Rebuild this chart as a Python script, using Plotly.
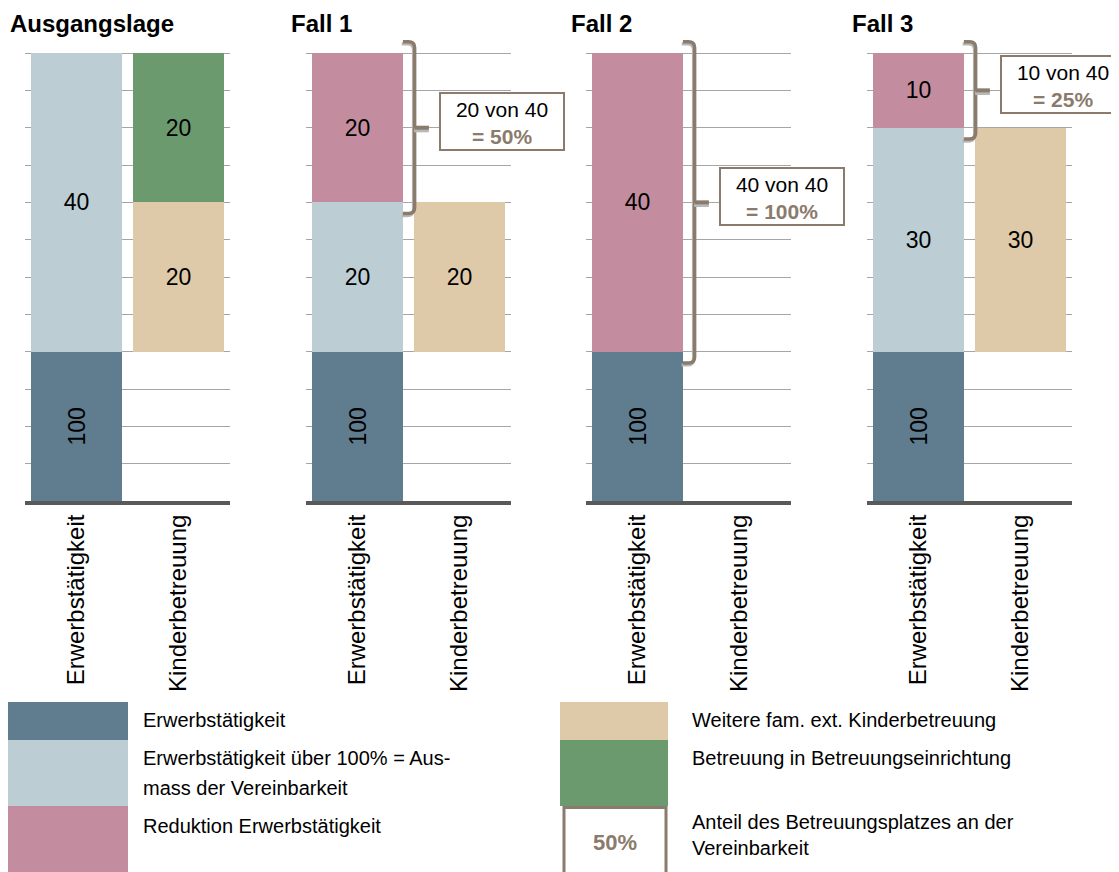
import plotly.graph_objects as go

# ---------------- data ----------------
panels = ["Ausgangslage", "Fall 1", "Fall 2", "Fall 3"]
categories = ["Erwerbstätigkeit", "Kinderbetreuung"]
erwerb_base = [100, 100, 100, 100]        # Erwerbstätigkeit (100%)
erwerb_ueber = [40, 20, 0, 30]            # Erwerbstätigkeit über 100%
reduktion = [0, 20, 40, 10]               # Reduktion Erwerbstätigkeit
weitere = [20, 20, 0, 30]                 # Weitere fam. ext. Kinderbetreuung
einrichtung = [20, 0, 0, 0]               # Betreuung in Betreuungseinrichtung
vereinbarkeit_total = [40, 40, 40, 40]    # reference for share

legend_left = ["Erwerbstätigkeit",
               "Erwerbstätigkeit über 100% = Aus-\nmass der Vereinbarkeit",
               "Reduktion Erwerbstätigkeit"]
legend_right = ["Weitere fam. ext. Kinderbetreuung",
                "Betreuung in Betreuungseinrichtung",
                "Anteil des Betreuungsplatzes an der\nVereinbarkeit"]
legend_box_label = "50%"

# ---------------- style ----------------
W, H = 1119, 872
OFF = 8            # page body margin
FW, FH = W - OFF, H - OFF
FONT = "Arial, 'Liberation Sans', sans-serif"
C_BASE = "#5F7D8F"
C_UEBER = "#BDCDD4"
C_RED = "#C48D9F"
C_WEIT = "#DECAA8"
C_EINR = "#6C9A6F"
BROWN = "#8B7B6C"
GRID = "#A6A6A6"
BASE_SCALE = 0.2   # axis break: the 100% base is drawn at 1/5 scale
BAR_W = 0.89
YMAX = 62

panel_left_px = [25, 306, 586, 867]
panel_w_px = 205
y_bottom_px, y_top_px = 501, 38.1


def px(x):
    return (x - OFF) / FW


def py(y):
    return 1 - (y - OFF) / FH


fig = go.Figure()
layout_axes = {}
shapes = []
annotations = []

for i, name in enumerate(panels):
    s = "" if i == 0 else str(i + 1)
    # (x, value, scale, colour, text angle, show text)
    segs = [
        (0, erwerb_base[i], BASE_SCALE, C_BASE, -90, True),
        (0, erwerb_ueber[i], 1, C_UEBER, 0, True),
        (0, reduktion[i], 1, C_RED, 0, True),
        (1, erwerb_base[i], BASE_SCALE, "rgba(0,0,0,0)", 0, False),
        (1, weitere[i], 1, C_WEIT, 0, True),
        (1, einrichtung[i], 1, C_EINR, 0, True),
    ]
    for xpos, val, sc, col, ang, show in segs:
        if val <= 0:
            continue
        fig.add_trace(go.Bar(
            x=[xpos], y=[val * sc], text=[str(val) if show else ""], width=[BAR_W],
            marker=dict(color=col, line=dict(width=0)),
            textposition="inside", insidetextanchor="middle", textangle=ang,
            constraintext="none",
            textfont=dict(size=23, color="black", family=FONT),
            xaxis="x" + s, yaxis="y" + s, showlegend=False, hoverinfo="skip"))

    l = panel_left_px[i]
    layout_axes["xaxis" + s] = dict(
        domain=[px(l), px(l + panel_w_px)], range=[-0.505, 1.505],
        tickmode="array", tickvals=[0, 1], ticktext=categories, tickangle=-90,
        tickfont=dict(size=24, color="black", family=FONT), ticks="",
        showline=True, linewidth=4, linecolor="#595959",
        showgrid=False, zeroline=False, anchor="y" + s, fixedrange=True)
    layout_axes["yaxis" + s] = dict(
        domain=[py(y_bottom_px), py(y_top_px)], range=[0, YMAX],
        tick0=0, dtick=5, showgrid=True, gridcolor=GRID, gridwidth=1,
        showticklabels=False, ticks="", zeroline=False, showline=False,
        anchor="x" + s, fixedrange=True)

    annotations.append(dict(
        text="<b>%s</b>" % name, xref="paper", yref="paper",
        x=px(l - 17), y=py(23), xanchor="left", yanchor="middle",
        showarrow=False, font=dict(size=24, color="black", family=FONT)))

    # brace + share box
    if reduktion[i] > 0:
        base_top = erwerb_base[i] * BASE_SCALE + erwerb_ueber[i]
        pad = 1.5
        ylo = base_top - pad
        yhi = base_top + reduktion[i] + pad
        ymid = (ylo + yhi) / 2
        xe, xb, rx, ry = BAR_W / 2, 0.56, 0.06, 0.8

        def brace(dx, dy):
            return ("M %f,%f L %f,%f Q %f,%f %f,%f L %f,%f Q %f,%f %f,%f L %f,%f" % (
                xe + dx, yhi + dy, xb - rx + dx, yhi + dy, xb + dx, yhi + dy,
                xb + dx, yhi - ry + dy, xb + dx, ylo + ry + dy, xb + dx, ylo + dy,
                xb - rx + dx, ylo + dy, xe + dx, ylo + dy))

        shapes.append(dict(type="path", xref="x" + s, yref="y" + s,
                           path=brace(-0.012, -0.3),
                           line=dict(color="#B8B8B8", width=3), layer="above"))
        shapes.append(dict(type="path", xref="x" + s, yref="y" + s,
                           path=brace(0, 0),
                           line=dict(color=BROWN, width=3.5), layer="above"))
        shapes.append(dict(type="line", xref="x" + s, yref="y" + s,
                           x0=xb - 0.005, x1=xb + 0.14, y0=ymid - 0.35, y1=ymid - 0.35,
                           line=dict(color="#B8B8B8", width=4), layer="above"))
        shapes.append(dict(type="line", xref="x" + s, yref="y" + s,
                           x0=xb, x1=xb + 0.14, y0=ymid, y1=ymid,
                           line=dict(color=BROWN, width=4), layer="above"))
        pct = round(100 * reduktion[i] / vereinbarkeit_total[i])
        annotations.append(dict(
            text="%d von %d<br><b><span style='color:%s'>= %d%%</span></b>" % (
                reduktion[i], vereinbarkeit_total[i], BROWN, pct),
            xref="x" + s, yref="y" + s, x=xb + 0.24, y=ymid + 0.8,
            xanchor="left", yanchor="middle", showarrow=False,
            width=114, height=47, borderpad=4, borderwidth=2, valign="top",
            bordercolor=BROWN, bgcolor="white", align="center",
            font=dict(size=21, color="black", family=FONT)))

# ---------------- legend (drawn) ----------------
legend_rows = [(702, 740), (740, 806), (806, 872)]
left_cols = [C_BASE, C_UEBER, C_RED]
right_cols = [C_WEIT, C_EINR, None]
for (t, b), col in zip(legend_rows, left_cols):
    shapes.append(dict(type="rect", xref="paper", yref="paper",
                       x0=px(8), x1=px(128), y0=py(b), y1=py(t),
                       fillcolor=col, line=dict(width=0)))
for (t, b), col in zip(legend_rows, right_cols):
    if col is None:
        shapes.append(dict(type="rect", xref="paper", yref="paper",
                           x0=px(564), x1=px(666), y0=py(b + 2), y1=py(t + 1.5),
                           fillcolor="white", line=dict(color=BROWN, width=3)))
        annotations.append(dict(
            text="<b>%s</b>" % legend_box_label, xref="paper", yref="paper",
            x=px(615), y=py((t + b) / 2 + 3), xanchor="center", yanchor="middle",
            showarrow=False, font=dict(size=22, color=BROWN, family=FONT)))
    else:
        shapes.append(dict(type="rect", xref="paper", yref="paper",
                           x0=px(560), x1=px(668), y0=py(b), y1=py(t),
                           fillcolor=col, line=dict(width=0)))


def legend_text(label, x, ytop, first_off=18, step=30):
    for k, line in enumerate(label.split("\n")):
        annotations.append(dict(
            text=line, xref="paper", yref="paper", x=px(x),
            y=py(ytop + first_off + k * step), xanchor="left", yanchor="middle",
            showarrow=False, font=dict(size=20, color="black", family=FONT)))


for (t, b), lab in zip(legend_rows, legend_left):
    legend_text(lab, 141, t, 18 if t != 806 else 20)
for (t, b), lab in zip(legend_rows, legend_right):
    legend_text(lab, 690, t, 18 if t != 806 else 16, 26)

fig.update_layout(
    width=FW, height=FH, margin=dict(l=0, r=0, t=0, b=0),
    paper_bgcolor="white", plot_bgcolor="white",
    barmode="stack", showlegend=False,
    font=dict(family=FONT, color="black"),
    shapes=shapes, annotations=annotations, **layout_axes)

fig.write_html("out.html", config={"displayModeBar": False})
